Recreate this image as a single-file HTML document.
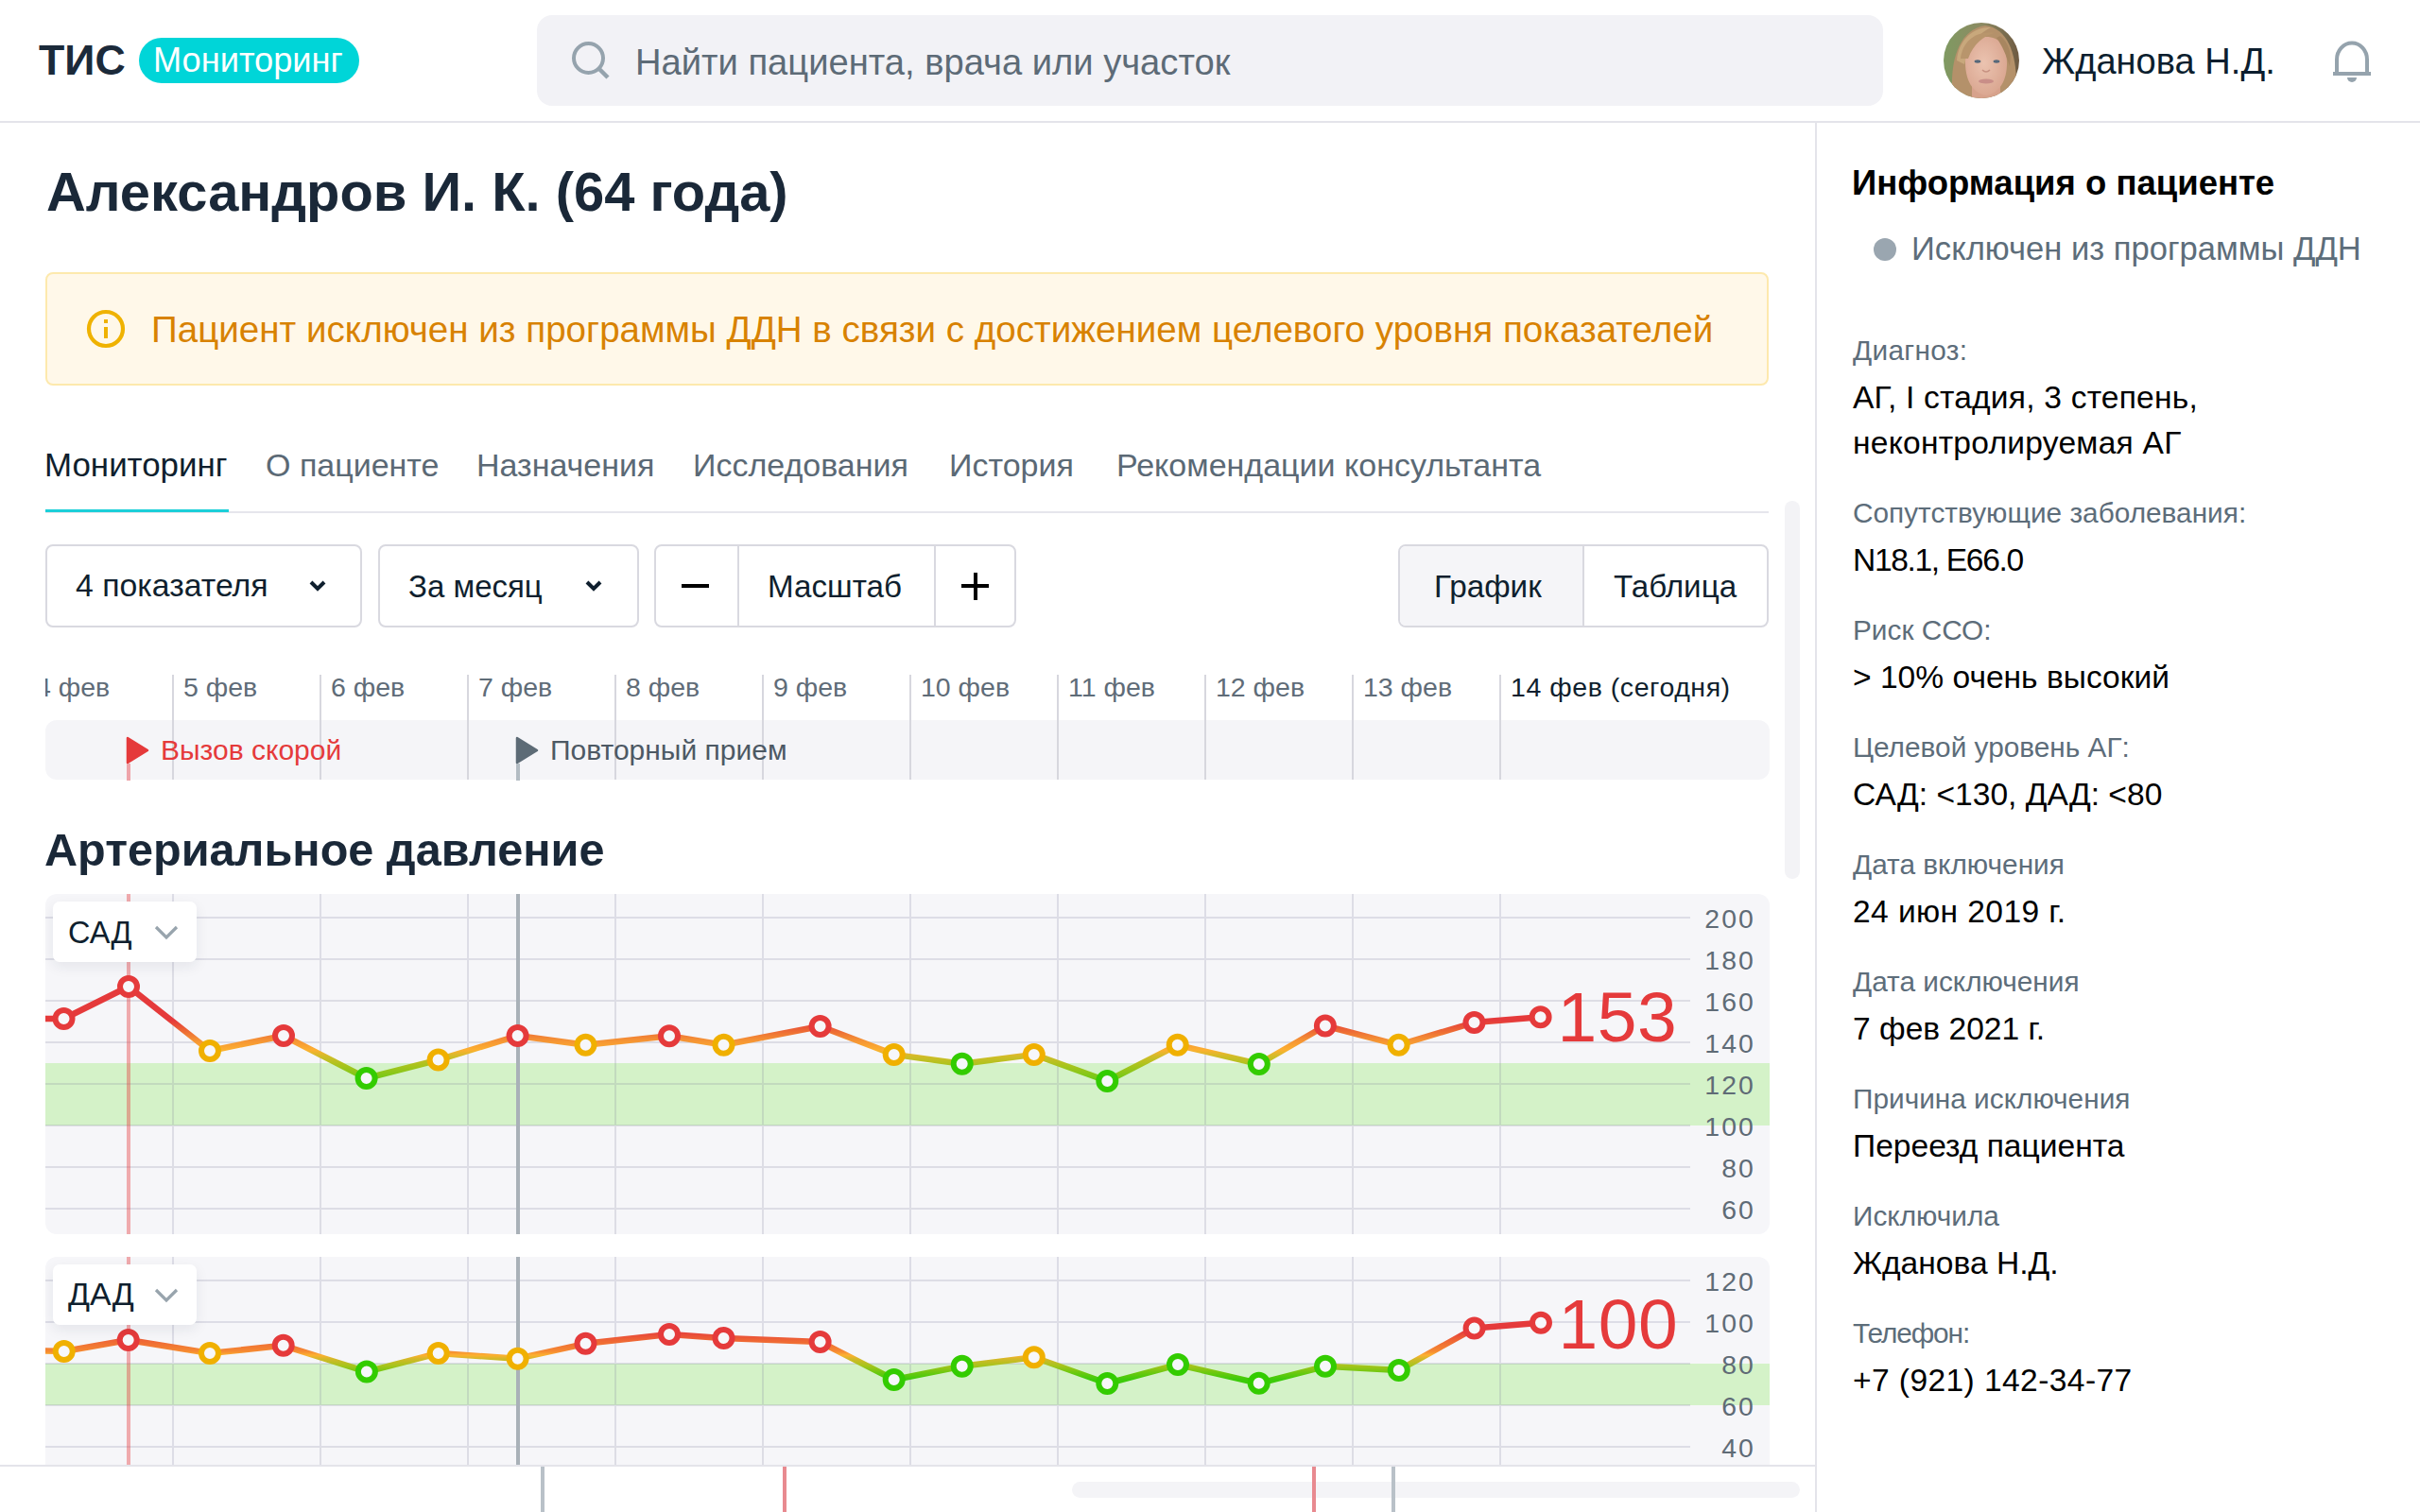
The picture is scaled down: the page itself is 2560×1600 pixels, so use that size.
<!DOCTYPE html>
<html lang="ru"><head><meta charset="utf-8"><title>ТИС Мониторинг</title>
<style>
html,body{margin:0;padding:0;}
body{width:2560px;height:1600px;position:relative;overflow:hidden;background:#fff;font-family:"Liberation Sans",sans-serif;}
.t{position:absolute;white-space:nowrap;line-height:1;}
</style></head><body>
<div class="t" style="left:41px;top:41.7px;font-size:44.7px;color:#1b2a3a;font-weight:700;">ТИС</div>
<div style="position:absolute;left:147px;top:40px;width:233px;height:48px;background:#00d5d8;border-radius:24px;"></div>
<div class="t" style="left:162px;top:46.3px;font-size:36.2px;color:#ffffff;">Мониторинг</div>
<div style="position:absolute;left:568px;top:16px;width:1424px;height:96px;background:#f2f2f6;border-radius:16px;"></div>
<svg style="position:absolute;left:598px;top:38px" width="52" height="52" viewBox="0 0 52 52"><circle cx="24.5" cy="23.5" r="15.5" fill="none" stroke="#95a3ad" stroke-width="4"/><line x1="35.5" y1="34.5" x2="45" y2="44" stroke="#95a3ad" stroke-width="4.5"/></svg>
<div class="t" style="left:672px;top:46.7px;font-size:38.15px;color:#5d6b77;">Найти пациента, врача или участок</div>
<svg style="position:absolute;left:2056px;top:24px;filter:blur(0.5px)" width="80" height="80" viewBox="0 0 80 80">
<defs><clipPath id="av"><circle cx="40" cy="40" r="40"/></clipPath>
<linearGradient id="bgav" x1="0" y1="0" x2="1" y2="0"><stop offset="0" stop-color="#7f9a62"/><stop offset="0.5" stop-color="#8c8a62"/><stop offset="1" stop-color="#6e5a42"/></linearGradient>
<radialGradient id="face" cx="0.45" cy="0.45" r="0.6"><stop offset="0" stop-color="#ebc3b0"/><stop offset="1" stop-color="#d9a58f"/></radialGradient></defs>
<g clip-path="url(#av)">
<rect width="80" height="80" fill="url(#bgav)"/>
<path d="M10 82 C6 50 12 8 44 3 C72 6 80 44 76 82 Z" fill="#b4916a"/>
<path d="M14 40 C16 16 34 4 50 5 C40 10 28 20 22 44 Z" fill="#c8a87c"/>
<rect x="30" y="66" width="30" height="16" fill="#d7a28c"/>
<path d="M23 42 C23 24 32 15 45 15 C59 15 67 25 67 43 C67 61 59 75 45 77 C31 75 23 61 23 42 Z" fill="url(#face)"/>
<path d="M18 38 C20 20 34 8 54 11 C42 14 32 22 26 38 Z" fill="#b8956c"/>
<path d="M60 14 C70 22 72 34 70 46 C66 34 62 24 56 16 Z" fill="#a88660"/>
<ellipse cx="36" cy="41" rx="3.4" ry="1.7" fill="#56687a"/>
<ellipse cx="56" cy="41" rx="3.4" ry="1.7" fill="#56687a"/>
<path d="M41 50 Q45 54 49 50" stroke="#c89282" stroke-width="1.6" fill="none"/>
<ellipse cx="45" cy="62" rx="8" ry="2.6" fill="#c98e88"/>
</g></svg>
<div class="t" style="left:2160px;top:46.2px;font-size:38.1px;color:#0c1e2e;">Жданова Н.Д.</div>
<svg style="position:absolute;left:2466px;top:42px" width="44" height="48" viewBox="0 0 44 48"><path d="M6 35 L6 21 A16 17.5 0 0 1 38 21 L38 35" fill="none" stroke="#95a3ad" stroke-width="4"/><rect x="2" y="34" width="40" height="4" fill="#95a3ad"/><path d="M17 40 L27 40 A5 5 0 0 1 17 40 Z" fill="#95a3ad"/></svg>
<div style="position:absolute;left:0px;top:128px;width:2560px;height:2px;background:#e4e4ea;"></div>
<div style="position:absolute;left:1920px;top:130px;width:2px;height:1470px;background:#e4e4ea;"></div>
<div class="t" style="left:49px;top:175.0px;font-size:57.9px;color:#1a2838;font-weight:700;">Александров И. К. (64 года)</div>
<div style="position:absolute;left:48px;top:288px;width:1823px;height:120px;background:#fff8e9;border:2px solid #fde9ad;border-radius:8px;box-sizing:border-box;"></div>
<svg style="position:absolute;left:90px;top:326px" width="44" height="44" viewBox="0 0 44 44"><circle cx="22" cy="22" r="18" fill="none" stroke="#efb200" stroke-width="4.2"/><rect x="20" y="12" width="4" height="4" fill="#efb200"/><rect x="20" y="20" width="4" height="12" fill="#efb200"/></svg>
<div class="t" style="left:160px;top:330.3px;font-size:38.6px;color:#d88200;">Пациент исключен из программы ДДН в связи с достижением целевого уровня показателей</div>
<div class="t tab" style="left:47px;top:474.5px;font-size:34.9px;color:#0f1f2e;">Мониторинг</div>
<div class="t tab" style="left:281px;top:475.2px;font-size:34px;color:#5b6975;">О пациенте</div>
<div class="t tab" style="left:504px;top:475.2px;font-size:34px;color:#5b6975;">Назначения</div>
<div class="t tab" style="left:733px;top:475.2px;font-size:34px;color:#5b6975;">Исследования</div>
<div class="t tab" style="left:1004px;top:475.2px;font-size:34px;color:#5b6975;">История</div>
<div class="t tab" style="left:1181px;top:475.2px;font-size:34px;color:#5b6975;">Рекомендации консультанта</div>
<div style="position:absolute;left:48px;top:541px;width:1823px;height:2px;background:#e6e6ec;"></div>
<div style="position:absolute;left:48px;top:539px;width:194px;height:3px;background:#1ccfd9;"></div>
<div style="position:absolute;left:48px;top:576px;width:335px;height:88px;border:2px solid #d9d9e0;border-radius:8px;box-sizing:border-box;background:#fff;"></div>
<div class="t" style="left:80px;top:603.2px;font-size:33.8px;color:#0f1f2e;">4 показателя</div>
<svg style="position:absolute;left:324px;top:610px" width="24" height="20" viewBox="0 0 24 20"><path d="M5 6 L12 13 L19 6" fill="none" stroke="#0f1f2e" stroke-width="4"/></svg>
<div style="position:absolute;left:400px;top:576px;width:276px;height:88px;border:2px solid #d9d9e0;border-radius:8px;box-sizing:border-box;background:#fff;"></div>
<div class="t" style="left:432px;top:603.9px;font-size:33px;color:#0f1f2e;">За месяц</div>
<svg style="position:absolute;left:616px;top:610px" width="24" height="20" viewBox="0 0 24 20"><path d="M5 6 L12 13 L19 6" fill="none" stroke="#0f1f2e" stroke-width="4"/></svg>
<div style="position:absolute;left:692px;top:576px;width:383px;height:88px;border:2px solid #d9d9e0;border-radius:8px;box-sizing:border-box;background:#fff;"></div>
<div style="position:absolute;left:780px;top:578px;width:2px;height:84px;background:#d9d9e0;"></div>
<div style="position:absolute;left:988px;top:578px;width:2px;height:84px;background:#d9d9e0;"></div>
<div style="position:absolute;left:721px;top:618px;width:29px;height:4px;background:#000;"></div>
<div class="t" style="left:812px;top:603.7px;font-size:33.2px;color:#0f1f2e;">Масштаб</div>
<div style="position:absolute;left:1017px;top:618px;width:29px;height:4px;background:#000;"></div>
<div style="position:absolute;left:1029.5px;top:606px;width:4px;height:29px;background:#000;"></div>
<div style="position:absolute;left:1479px;top:576px;width:392px;height:88px;border:2px solid #d9d9e0;border-radius:8px;box-sizing:border-box;background:#fff;"></div>
<div style="position:absolute;left:1481px;top:578px;width:194px;height:84px;background:#f5f5f8;border-radius:6px 0 0 6px;"></div>
<div style="position:absolute;left:1674px;top:578px;width:2px;height:84px;background:#d9d9e0;"></div>
<div class="t" style="left:1517px;top:603.6px;font-size:33.3px;color:#0f1f2e;">График</div>
<div class="t" style="left:1707px;top:603.7px;font-size:33.2px;color:#0f1f2e;">Таблица</div>
<div style="position:absolute;left:48px;top:762px;width:1824px;height:63px;background:#f5f5f8;border-radius:12px;"></div>
<div style="position:absolute;left:182px;top:714px;width:2px;height:111px;background:#d7d7de;"></div>
<div style="position:absolute;left:338px;top:714px;width:2px;height:111px;background:#d7d7de;"></div>
<div style="position:absolute;left:494px;top:714px;width:2px;height:111px;background:#d7d7de;"></div>
<div style="position:absolute;left:650px;top:714px;width:2px;height:111px;background:#d7d7de;"></div>
<div style="position:absolute;left:806px;top:714px;width:2px;height:111px;background:#d7d7de;"></div>
<div style="position:absolute;left:962px;top:714px;width:2px;height:111px;background:#d7d7de;"></div>
<div style="position:absolute;left:1118px;top:714px;width:2px;height:111px;background:#d7d7de;"></div>
<div style="position:absolute;left:1274px;top:714px;width:2px;height:111px;background:#d7d7de;"></div>
<div style="position:absolute;left:1430px;top:714px;width:2px;height:111px;background:#d7d7de;"></div>
<div style="position:absolute;left:1586px;top:714px;width:2px;height:111px;background:#d7d7de;"></div>
<div style="position:absolute;left:48px;top:700px;width:120px;height:60px;overflow:hidden">
<div class="t" style="left:-10px;top:13.3px;font-size:28.5px;color:#5f6c78;">4 фев</div>
</div>
<div class="t" style="left:194px;top:713.3px;font-size:28.5px;color:#5f6c78;">5 фев</div>
<div class="t" style="left:350px;top:713.3px;font-size:28.5px;color:#5f6c78;">6 фев</div>
<div class="t" style="left:506px;top:713.3px;font-size:28.5px;color:#5f6c78;">7 фев</div>
<div class="t" style="left:662px;top:713.3px;font-size:28.5px;color:#5f6c78;">8 фев</div>
<div class="t" style="left:818px;top:713.3px;font-size:28.5px;color:#5f6c78;">9 фев</div>
<div class="t" style="left:974px;top:713.3px;font-size:28.5px;color:#5f6c78;">10 фев</div>
<div class="t" style="left:1130px;top:713.3px;font-size:28.5px;color:#5f6c78;">11 фев</div>
<div class="t" style="left:1286px;top:713.3px;font-size:28.5px;color:#5f6c78;">12 фев</div>
<div class="t" style="left:1442px;top:713.3px;font-size:28.5px;color:#5f6c78;">13 фев</div>
<div class="t" style="left:1598px;top:713.3px;font-size:28.5px;color:#0f1f2e;letter-spacing:0.55px;">14 фев (сегодня)</div>
<svg style="position:absolute;left:130px;top:776px" width="32" height="50"><path d="M5 5 L26 18 L5 31 Z" fill="#e53a3b" stroke="#e53a3b" stroke-width="2.5" stroke-linejoin="round"/><rect x="4" y="32" width="4" height="18" fill="#eea4aa"/></svg>
<div class="t" style="left:170px;top:778.8px;font-size:30px;color:#e53a3b;">Вызов скорой</div>
<svg style="position:absolute;left:542px;top:776px" width="32" height="50"><path d="M5 5 L26 18 L5 31 Z" fill="#5d6b76" stroke="#5d6b76" stroke-width="2.5" stroke-linejoin="round"/><rect x="4" y="32" width="4" height="18" fill="#b3bcc3"/></svg>
<div class="t" style="left:582px;top:778.8px;font-size:30px;color:#4d5964;">Повторный прием</div>
<div style="position:absolute;left:1888px;top:530px;width:16px;height:400px;background:#f3f3f6;border-radius:8px;"></div>
<div class="t" style="left:47px;top:874.9px;font-size:48.6px;color:#1a2838;font-weight:700;">Артериальное давление</div>
<svg style="position:absolute;left:0;top:0" width="1920" height="1600" viewBox="0 0 1920 1600"><defs><clipPath id="cls"><rect x="48" y="946" width="1824" height="360" rx="12"/></clipPath><linearGradient id="lgs" gradientUnits="userSpaceOnUse" x1="0" y1="1080" x2="0" y2="1154"><stop offset="0.0000" stop-color="#e53a3b"/><stop offset="0.1351" stop-color="#ec6535"/><stop offset="0.2703" stop-color="#f49035"/><stop offset="0.4189" stop-color="#fdb030"/><stop offset="0.5135" stop-color="#d0bc28"/><stop offset="0.6486" stop-color="#a6c41c"/><stop offset="0.7838" stop-color="#80c818"/><stop offset="0.8919" stop-color="#5cc810"/><stop offset="1.0000" stop-color="#3ccb0a"/></linearGradient></defs><g clip-path="url(#cls)"><rect x="48" y="946" width="1824" height="360" fill="#f6f6f9"/><rect x="48" y="1125" width="1824" height="66" fill="#d4f2c8"/><g opacity="0.2"><rect x="48" y="970" width="1740" height="2" fill="#7d7d9a"/><rect x="48" y="1014" width="1740" height="2" fill="#7d7d9a"/><rect x="48" y="1058" width="1740" height="2" fill="#7d7d9a"/><rect x="48" y="1102" width="1740" height="2" fill="#7d7d9a"/><rect x="48" y="1146" width="1740" height="2" fill="#7d7d9a"/><rect x="48" y="1190" width="1740" height="2" fill="#7d7d9a"/><rect x="48" y="1234" width="1740" height="2" fill="#7d7d9a"/><rect x="48" y="1278" width="1740" height="2" fill="#7d7d9a"/><rect x="182" y="946" width="2" height="360" fill="#7d7d9a"/><rect x="338" y="946" width="2" height="360" fill="#7d7d9a"/><rect x="494" y="946" width="2" height="360" fill="#7d7d9a"/><rect x="650" y="946" width="2" height="360" fill="#7d7d9a"/><rect x="806" y="946" width="2" height="360" fill="#7d7d9a"/><rect x="962" y="946" width="2" height="360" fill="#7d7d9a"/><rect x="1118" y="946" width="2" height="360" fill="#7d7d9a"/><rect x="1274" y="946" width="2" height="360" fill="#7d7d9a"/><rect x="1430" y="946" width="2" height="360" fill="#7d7d9a"/><rect x="1586" y="946" width="2" height="360" fill="#7d7d9a"/></g><rect x="134" y="946" width="4" height="360" fill="#e53a3b" fill-opacity="0.4"/><rect x="546" y="946" width="4" height="360" fill="#a9b1b8"/><path d="M20,1078 L67.5,1078 L136,1044 L222,1112 L300,1096 L387.6,1141 L463.6,1121.6 L547.6,1096 L619.5,1105.8 L708,1096.2 L765.5,1105.8 L867.6,1086 L945.7,1115.9 L1017.7,1125.7 L1093.8,1115.9 L1171.3,1144 L1245.7,1105.8 L1331.8,1126 L1401.9,1085.5 L1479.6,1105.8 L1559.5,1082 L1629.6,1076.2" fill="none" stroke="url(#lgs)" stroke-width="6.5" stroke-linejoin="round"/><circle cx="67.5" cy="1078" r="9" fill="#f7f7fa" stroke="#e53a3b" stroke-width="6"/><circle cx="136" cy="1044" r="9" fill="#f7f7fa" stroke="#e53a3b" stroke-width="6"/><circle cx="222" cy="1112" r="9" fill="#f7f7fa" stroke="#f0b000" stroke-width="6"/><circle cx="300" cy="1096" r="9" fill="#f7f7fa" stroke="#e53a3b" stroke-width="6"/><circle cx="387.6" cy="1141" r="9" fill="#f7f7fa" stroke="#33cc00" stroke-width="6"/><circle cx="463.6" cy="1121.6" r="9" fill="#f7f7fa" stroke="#f0b000" stroke-width="6"/><circle cx="547.6" cy="1096" r="9" fill="#f7f7fa" stroke="#e53a3b" stroke-width="6"/><circle cx="619.5" cy="1105.8" r="9" fill="#f7f7fa" stroke="#f0b000" stroke-width="6"/><circle cx="708" cy="1096.2" r="9" fill="#f7f7fa" stroke="#e53a3b" stroke-width="6"/><circle cx="765.5" cy="1105.8" r="9" fill="#f7f7fa" stroke="#f0b000" stroke-width="6"/><circle cx="867.6" cy="1086" r="9" fill="#f7f7fa" stroke="#e53a3b" stroke-width="6"/><circle cx="945.7" cy="1115.9" r="9" fill="#f7f7fa" stroke="#f0b000" stroke-width="6"/><circle cx="1017.7" cy="1125.7" r="9" fill="#f7f7fa" stroke="#33cc00" stroke-width="6"/><circle cx="1093.8" cy="1115.9" r="9" fill="#f7f7fa" stroke="#f0b000" stroke-width="6"/><circle cx="1171.3" cy="1144" r="9" fill="#f7f7fa" stroke="#33cc00" stroke-width="6"/><circle cx="1245.7" cy="1105.8" r="9" fill="#f7f7fa" stroke="#f0b000" stroke-width="6"/><circle cx="1331.8" cy="1126" r="9" fill="#f7f7fa" stroke="#33cc00" stroke-width="6"/><circle cx="1401.9" cy="1085.5" r="9" fill="#f7f7fa" stroke="#e53a3b" stroke-width="6"/><circle cx="1479.6" cy="1105.8" r="9" fill="#f7f7fa" stroke="#f0b000" stroke-width="6"/><circle cx="1559.5" cy="1082" r="9" fill="#f7f7fa" stroke="#e53a3b" stroke-width="6"/><circle cx="1629.6" cy="1076.2" r="9" fill="#f7f7fa" stroke="#e53a3b" stroke-width="6"/></g></svg>
<div class="t" style="left:1701px;width:156px;text-align:right;top:957.6px;font-size:28.4px;color:#5f6b76;letter-spacing:2.1px">200</div>
<div class="t" style="left:1701px;width:156px;text-align:right;top:1001.6px;font-size:28.4px;color:#5f6b76;letter-spacing:2.1px">180</div>
<div class="t" style="left:1701px;width:156px;text-align:right;top:1045.6px;font-size:28.4px;color:#5f6b76;letter-spacing:2.1px">160</div>
<div class="t" style="left:1701px;width:156px;text-align:right;top:1089.6px;font-size:28.4px;color:#5f6b76;letter-spacing:2.1px">140</div>
<div class="t" style="left:1701px;width:156px;text-align:right;top:1133.6px;font-size:28.4px;color:#5f6b76;letter-spacing:2.1px">120</div>
<div class="t" style="left:1701px;width:156px;text-align:right;top:1177.6px;font-size:28.4px;color:#5f6b76;letter-spacing:2.1px">100</div>
<div class="t" style="left:1701px;width:156px;text-align:right;top:1221.6px;font-size:28.4px;color:#5f6b76;letter-spacing:2.1px">80</div>
<div class="t" style="left:1701px;width:156px;text-align:right;top:1265.6px;font-size:28.4px;color:#5f6b76;letter-spacing:2.1px">60</div>
<div class="t" style="left:1647.5px;top:1038.5px;font-size:75px;color:#e53a3b;letter-spacing:0.6px;">153</div>
<div style="position:absolute;left:56px;top:954px;width:152px;height:64px;background:#fff;border-radius:7px;box-shadow:0 5px 14px rgba(30,40,60,0.08);"></div>
<div class="t" style="left:72px;top:970.9px;font-size:32.5px;color:#0f1f2e;">САД</div>
<svg style="position:absolute;left:160px;top:975.5px" width="32" height="24"><path d="M5 5 L16 16 L27 5" fill="none" stroke="#98a4ad" stroke-width="3.2"/></svg>
<svg style="position:absolute;left:0;top:0" width="1920" height="1600" viewBox="0 0 1920 1600"><defs><clipPath id="cld"><rect x="48" y="1330" width="1824" height="240" rx="12"/></clipPath><linearGradient id="lgd" gradientUnits="userSpaceOnUse" x1="0" y1="1408" x2="0" y2="1460"><stop offset="0.0000" stop-color="#e53a3b"/><stop offset="0.1923" stop-color="#ee6435"/><stop offset="0.4231" stop-color="#f58a32"/><stop offset="0.5000" stop-color="#fdb030"/><stop offset="0.5769" stop-color="#d4b828"/><stop offset="0.7115" stop-color="#a8c41c"/><stop offset="0.8462" stop-color="#70c810"/><stop offset="1.0000" stop-color="#3ccb0a"/></linearGradient></defs><g clip-path="url(#cld)"><rect x="48" y="1330" width="1824" height="240" fill="#f6f6f9"/><rect x="48" y="1443" width="1824" height="44" fill="#d4f2c8"/><g opacity="0.2"><rect x="48" y="1354" width="1740" height="2" fill="#7d7d9a"/><rect x="48" y="1398" width="1740" height="2" fill="#7d7d9a"/><rect x="48" y="1442" width="1740" height="2" fill="#7d7d9a"/><rect x="48" y="1486" width="1740" height="2" fill="#7d7d9a"/><rect x="48" y="1530" width="1740" height="2" fill="#7d7d9a"/><rect x="182" y="1330" width="2" height="240" fill="#7d7d9a"/><rect x="338" y="1330" width="2" height="240" fill="#7d7d9a"/><rect x="494" y="1330" width="2" height="240" fill="#7d7d9a"/><rect x="650" y="1330" width="2" height="240" fill="#7d7d9a"/><rect x="806" y="1330" width="2" height="240" fill="#7d7d9a"/><rect x="962" y="1330" width="2" height="240" fill="#7d7d9a"/><rect x="1118" y="1330" width="2" height="240" fill="#7d7d9a"/><rect x="1274" y="1330" width="2" height="240" fill="#7d7d9a"/><rect x="1430" y="1330" width="2" height="240" fill="#7d7d9a"/><rect x="1586" y="1330" width="2" height="240" fill="#7d7d9a"/></g><rect x="134" y="1330" width="4" height="240" fill="#e53a3b" fill-opacity="0.4"/><rect x="546" y="1330" width="4" height="240" fill="#a9b1b8"/><path d="M20,1429 L67.7,1430 L135.7,1418 L222,1432 L299.7,1423.8 L387.9,1451.6 L463.7,1432 L547.6,1437.7 L619.5,1421.8 L708,1412 L765.5,1416 L867.6,1420 L945.7,1460 L1017.7,1445.8 L1093.8,1436.3 L1171.3,1464 L1246,1444 L1331.7,1463.8 L1402,1445.8 L1479.8,1449.9 L1559.6,1405.6 L1630,1399.8" fill="none" stroke="url(#lgd)" stroke-width="6.5" stroke-linejoin="round"/><circle cx="67.7" cy="1430" r="9" fill="#f7f7fa" stroke="#f0b000" stroke-width="6"/><circle cx="135.7" cy="1418" r="9" fill="#f7f7fa" stroke="#e53a3b" stroke-width="6"/><circle cx="222" cy="1432" r="9" fill="#f7f7fa" stroke="#f0b000" stroke-width="6"/><circle cx="299.7" cy="1423.8" r="9" fill="#f7f7fa" stroke="#e53a3b" stroke-width="6"/><circle cx="387.9" cy="1451.6" r="9" fill="#f7f7fa" stroke="#33cc00" stroke-width="6"/><circle cx="463.7" cy="1432" r="9" fill="#f7f7fa" stroke="#f0b000" stroke-width="6"/><circle cx="547.6" cy="1437.7" r="9" fill="#f7f7fa" stroke="#f0b000" stroke-width="6"/><circle cx="619.5" cy="1421.8" r="9" fill="#f7f7fa" stroke="#e53a3b" stroke-width="6"/><circle cx="708" cy="1412" r="9" fill="#f7f7fa" stroke="#e53a3b" stroke-width="6"/><circle cx="765.5" cy="1416" r="9" fill="#f7f7fa" stroke="#e53a3b" stroke-width="6"/><circle cx="867.6" cy="1420" r="9" fill="#f7f7fa" stroke="#e53a3b" stroke-width="6"/><circle cx="945.7" cy="1460" r="9" fill="#f7f7fa" stroke="#33cc00" stroke-width="6"/><circle cx="1017.7" cy="1445.8" r="9" fill="#f7f7fa" stroke="#33cc00" stroke-width="6"/><circle cx="1093.8" cy="1436.3" r="9" fill="#f7f7fa" stroke="#f0b000" stroke-width="6"/><circle cx="1171.3" cy="1464" r="9" fill="#f7f7fa" stroke="#33cc00" stroke-width="6"/><circle cx="1246" cy="1444" r="9" fill="#f7f7fa" stroke="#33cc00" stroke-width="6"/><circle cx="1331.7" cy="1463.8" r="9" fill="#f7f7fa" stroke="#33cc00" stroke-width="6"/><circle cx="1402" cy="1445.8" r="9" fill="#f7f7fa" stroke="#33cc00" stroke-width="6"/><circle cx="1479.8" cy="1449.9" r="9" fill="#f7f7fa" stroke="#33cc00" stroke-width="6"/><circle cx="1559.6" cy="1405.6" r="9" fill="#f7f7fa" stroke="#e53a3b" stroke-width="6"/><circle cx="1630" cy="1399.8" r="9" fill="#f7f7fa" stroke="#e53a3b" stroke-width="6"/></g></svg>
<div class="t" style="left:1701px;width:156px;text-align:right;top:1341.6px;font-size:28.4px;color:#5f6b76;letter-spacing:2.1px">120</div>
<div class="t" style="left:1701px;width:156px;text-align:right;top:1385.6px;font-size:28.4px;color:#5f6b76;letter-spacing:2.1px">100</div>
<div class="t" style="left:1701px;width:156px;text-align:right;top:1429.6px;font-size:28.4px;color:#5f6b76;letter-spacing:2.1px">80</div>
<div class="t" style="left:1701px;width:156px;text-align:right;top:1473.6px;font-size:28.4px;color:#5f6b76;letter-spacing:2.1px">60</div>
<div class="t" style="left:1701px;width:156px;text-align:right;top:1517.6px;font-size:28.4px;color:#5f6b76;letter-spacing:2.1px">40</div>
<div class="t" style="left:1648.5px;top:1363.5px;font-size:75px;color:#e53a3b;letter-spacing:0.6px;">100</div>
<div style="position:absolute;left:56px;top:1338px;width:152px;height:64px;background:#fff;border-radius:7px;box-shadow:0 5px 14px rgba(30,40,60,0.08);"></div>
<div class="t" style="left:72px;top:1353.3px;font-size:33.9px;color:#0f1f2e;">ДАД</div>
<svg style="position:absolute;left:160px;top:1359.5px" width="32" height="24"><path d="M5 5 L16 16 L27 5" fill="none" stroke="#98a4ad" stroke-width="3.2"/></svg>
<div style="position:absolute;left:0px;top:1550px;width:1920px;height:50px;background:#fff;border-top:2px solid #e4e4ea;box-sizing:border-box;"></div>
<div style="position:absolute;left:1134px;top:1568px;width:770px;height:17px;background:#f4f4f7;border-radius:9px;"></div>
<div style="position:absolute;left:572px;top:1552px;width:4px;height:48px;background:#b9c1c8;"></div>
<div style="position:absolute;left:828px;top:1552px;width:4px;height:48px;background:#e88a90;"></div>
<div style="position:absolute;left:1388px;top:1552px;width:4px;height:48px;background:#e88a90;"></div>
<div style="position:absolute;left:1472px;top:1552px;width:4px;height:48px;background:#b9c1c8;"></div>
<div class="t" style="left:1959px;top:175.7px;font-size:36.5px;color:#000000;font-weight:700;">Информация о пациенте</div>
<div style="position:absolute;left:1982px;top:252px;width:24px;height:24px;background:#9aa6b0;border-radius:50%;"></div>
<div class="t" style="left:2022px;top:246.3px;font-size:34.6px;color:#5d6d7a;">Исключен из программы ДДН</div>
<div class="t" style="left:1960px;top:355.5px;font-size:29.8px;color:#5d6d7a;letter-spacing:0.3px;">Диагноз:</div>
<div class="t" style="left:1960px;top:404.3px;font-size:33.6px;color:#000000;letter-spacing:0.2px;">АГ, I стадия, 3 степень,</div>
<div class="t" style="left:1960px;top:452.3px;font-size:33.6px;color:#000000;letter-spacing:0.24px;">неконтролируемая АГ</div>
<div class="t" style="left:1960px;top:527.5px;font-size:29.8px;color:#5d6d7a;">Сопутствующие заболевания:</div>
<div class="t" style="left:1960px;top:576.3px;font-size:33.6px;color:#000000;letter-spacing:-1.35px;">N18.1, E66.0</div>
<div class="t" style="left:1960px;top:651.5px;font-size:29.8px;color:#5d6d7a;">Риск ССО:</div>
<div class="t" style="left:1960px;top:700.3px;font-size:33.6px;color:#000000;">&gt; 10% очень высокий</div>
<div class="t" style="left:1960px;top:775.5px;font-size:29.8px;color:#5d6d7a;">Целевой уровень АГ:</div>
<div class="t" style="left:1960px;top:824.3px;font-size:33.6px;color:#000000;">САД: &lt;130, ДАД: &lt;80</div>
<div class="t" style="left:1960px;top:899.5px;font-size:29.8px;color:#5d6d7a;">Дата включения</div>
<div class="t" style="left:1960px;top:948.3px;font-size:33.6px;color:#000000;letter-spacing:0.4px;">24 июн 2019 г.</div>
<div class="t" style="left:1960px;top:1023.5px;font-size:29.8px;color:#5d6d7a;">Дата исключения</div>
<div class="t" style="left:1960px;top:1072.3px;font-size:33.6px;color:#000000;">7 фев 2021 г.</div>
<div class="t" style="left:1960px;top:1147.5px;font-size:29.8px;color:#5d6d7a;">Причина исключения</div>
<div class="t" style="left:1960px;top:1196.3px;font-size:33.6px;color:#000000;">Переезд пациента</div>
<div class="t" style="left:1960px;top:1271.5px;font-size:29.8px;color:#5d6d7a;">Исключила</div>
<div class="t" style="left:1960px;top:1320.3px;font-size:33.6px;color:#000000;">Жданова Н.Д.</div>
<div class="t" style="left:1960px;top:1395.5px;font-size:29.8px;color:#5d6d7a;letter-spacing:-1.1px;">Телефон:</div>
<div class="t" style="left:1960px;top:1444.3px;font-size:33.6px;color:#000000;letter-spacing:0.4px;">+7 (921) 142-34-77</div>
</body></html>
